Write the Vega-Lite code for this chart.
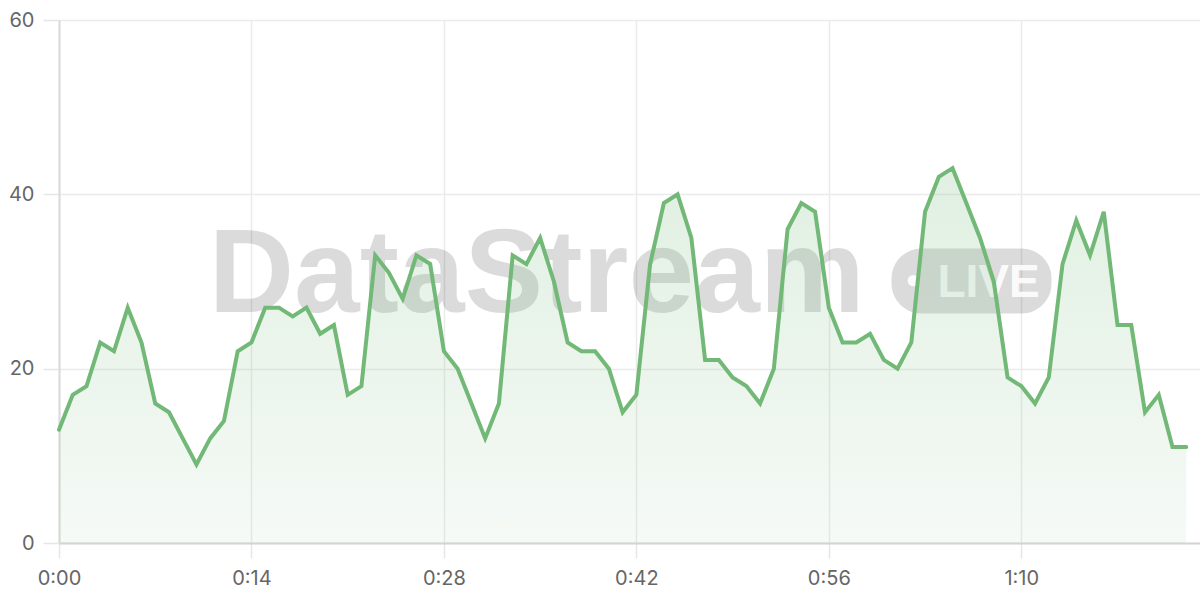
{
  "$schema": "https://vega.github.io/schema/vega-lite/v6.json",
  "width": 1141,
  "height": 523,
  "autosize": {"type": "none"},
  "padding": {"left": 59, "top": 20, "right": 0, "bottom": 57},
  "background": "white",
  "config": {
    "view": {"stroke": null},
    "font": "Inter",
    "axis": {"labelFont": "Inter", "labelFontSize": 20, "labelColor": "#666666", "gridColor": "#ebebeb", "gridWidth": 1.5, "tickColor": "#e6e6e6", "tickWidth": 1.5}
  },
  "datasets": {
    "series": [
      {"t":0,"v":13},{"t":1,"v":17},{"t":2,"v":18},{"t":3,"v":23},{"t":4,"v":22},{"t":5,"v":27},{"t":6,"v":23},{"t":7,"v":16},{"t":8,"v":15},{"t":9,"v":12},
      {"t":10,"v":9},{"t":11,"v":12},{"t":12,"v":14},{"t":13,"v":22},{"t":14,"v":23},{"t":15,"v":27},{"t":16,"v":27},{"t":17,"v":26},{"t":18,"v":27},{"t":19,"v":24},
      {"t":20,"v":25},{"t":21,"v":17},{"t":22,"v":18},{"t":23,"v":33},{"t":24,"v":31},{"t":25,"v":28},{"t":26,"v":33},{"t":27,"v":32},{"t":28,"v":22},{"t":29,"v":20},
      {"t":30,"v":16},{"t":31,"v":12},{"t":32,"v":16},{"t":33,"v":33},{"t":34,"v":32},{"t":35,"v":35},{"t":36,"v":30},{"t":37,"v":23},{"t":38,"v":22},{"t":39,"v":22},
      {"t":40,"v":20},{"t":41,"v":15},{"t":42,"v":17},{"t":43,"v":32},{"t":44,"v":39},{"t":45,"v":40},{"t":46,"v":35},{"t":47,"v":21},{"t":48,"v":21},{"t":49,"v":19},
      {"t":50,"v":18},{"t":51,"v":16},{"t":52,"v":20},{"t":53,"v":36},{"t":54,"v":39},{"t":55,"v":38},{"t":56,"v":27},{"t":57,"v":23},{"t":58,"v":23},{"t":59,"v":24},
      {"t":60,"v":21},{"t":61,"v":20},{"t":62,"v":23},{"t":63,"v":38},{"t":64,"v":42},{"t":65,"v":43},{"t":66,"v":39},{"t":67,"v":35},{"t":68,"v":30},{"t":69,"v":19},
      {"t":70,"v":18},{"t":71,"v":16},{"t":72,"v":19},{"t":73,"v":32},{"t":74,"v":37},{"t":75,"v":33},{"t":76,"v":38},{"t":77,"v":25},{"t":78,"v":25},{"t":79,"v":15},
      {"t":80,"v":17},{"t":81,"v":11},{"t":82,"v":11}
    ],
    "brand": [{"label": "DataStream"}],
    "badge": [{"label": "LIVE"}]
  },
  "layer": [
    {
      "data": {"name": "series"},
      "mark": {"type": "area", "opacity": 0},
      "encoding": {
        "x": {
          "field": "t", "type": "quantitative",
          "scale": {"domain": [0, 83], "nice": false, "zero": false},
          "axis": {
            "title": null, "values": [0, 14, 28, 42, 56, 70],
            "labelExpr": "floor(datum.value/60) + ':' + (datum.value%60 < 10 ? '0' : '') + (datum.value%60)",
            "grid": true, "tickSize": 15, "labelPadding": 10,
            "domain": true, "domainColor": "#d4d4d4", "domainWidth": 2,
            "labelFlush": false
          }
        },
        "y": {
          "field": "v", "type": "quantitative",
          "scale": {"domain": [0, 60], "nice": false},
          "axis": {
            "title": null, "values": [0, 20, 40, 60], "grid": true,
            "tickSize": 16, "labelPadding": 9,
            "domain": true, "domainColor": "#dadada", "domainWidth": 2
          }
        }
      }
    },
    {
      "data": {"name": "brand"},
      "mark": {"type": "text", "font": "Liberation Sans", "fontWeight": "bold", "fontSize": 118, "align": "left", "baseline": "alphabetic", "fill": "#000000", "fillOpacity": 0.14},
      "encoding": {
        "text": {"field": "label"},
        "x": {"datum": 10.9, "type": "quantitative"},
        "y": {"datum": 26.5, "type": "quantitative"}
      }
    },
    {
      "data": {"name": "badge"},
      "mark": {"type": "rect", "fill": "#000000", "fillOpacity": 0.14, "cornerRadius": 30},
      "encoding": {
        "x": {"datum": 60.56, "type": "quantitative"}, "x2": {"datum": 72.2},
        "y": {"datum": 33.8, "type": "quantitative"}, "y2": {"datum": 26.34}
      }
    },
    {
      "data": {"name": "badge"},
      "mark": {"type": "point", "filled": true, "shape": "circle", "size": 130, "fill": "#ffffff", "fillOpacity": 0.9, "strokeWidth": 0},
      "encoding": {
        "x": {"datum": 62.15, "type": "quantitative"},
        "y": {"datum": 30.1, "type": "quantitative"}
      }
    },
    {
      "data": {"name": "badge"},
      "mark": {"type": "text", "font": "Liberation Sans", "fontWeight": "bold", "fontSize": 46, "align": "left", "baseline": "alphabetic", "fill": "#ffffff", "fillOpacity": 0.9, "letterSpacing": -1},
      "encoding": {
        "text": {"field": "label"},
        "x": {"datum": 63.9, "type": "quantitative"},
        "y": {"datum": 28.2, "type": "quantitative"}
      }
    },
    {
      "data": {"name": "series"},
      "mark": {
        "type": "area",
        "fill": {
          "gradient": "linear", "x1": 0, "y1": 0, "x2": 0, "y2": 1,
          "stops": [
            {"offset": 0, "color": "rgba(116,185,122,0.22)"},
            {"offset": 1, "color": "rgba(116,185,122,0.07)"}
          ]
        }
      },
      "encoding": {
        "x": {"field": "t", "type": "quantitative"},
        "y": {"field": "v", "type": "quantitative"}
      }
    },
    {
      "data": {"name": "series"},
      "mark": {"type": "line", "color": "#72b877", "strokeWidth": 4, "strokeCap": "round", "strokeJoin": "miter"},
      "encoding": {
        "x": {"field": "t", "type": "quantitative"},
        "y": {"field": "v", "type": "quantitative"}
      }
    }
  ]
}
